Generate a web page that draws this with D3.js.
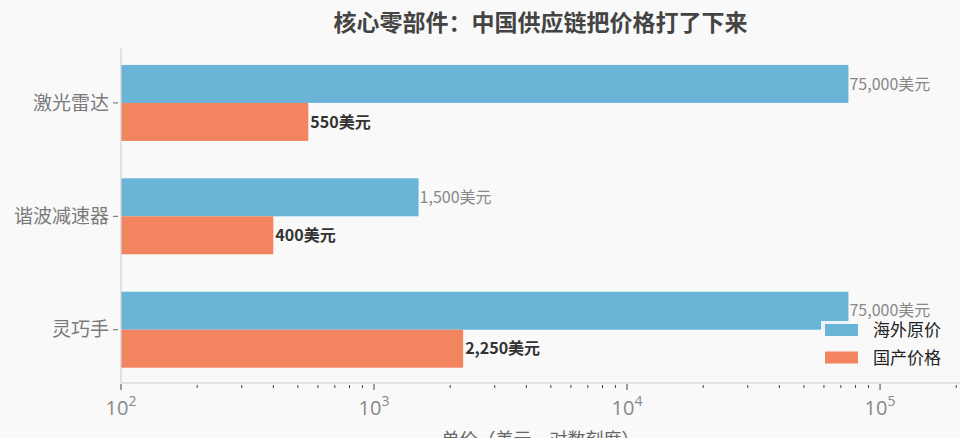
<!DOCTYPE html>
<html><head><meta charset="utf-8">
<script src="https://cdn.jsdelivr.net/npm/d3@7"></script>
<style>html,body{margin:0;padding:0;background:#f9f9f9;}svg{display:block;font-family:"Noto Sans CJK SC","Noto Sans",sans-serif;}</style>
</head><body>
<svg id="c" width="960" height="438"></svg>
<script>
const categories = ["激光雷达", "谐波减速器", "灵巧手"];
const overseasPrice = [75000, 1500, 75000];
const domesticPrice = [550, 400, 2250];
const seriesNames = ["海外原价", "国产价格"];
const majorTicks = [100, 1000, 10000, 100000];
const title = "核心零部件：中国供应链把价格打了下来";
const xLabel = "单价（美元，对数刻度）";

(function () {
const colors = ["#6ab4d8", "#f2845f"];
const svg = d3.select("#c");
const W = 960, H = 438;
svg.append("rect").attr("width", W).attr("height", H).attr("fill", "#f9f9f9");

const mLeft = 121, mRight = 960, mTop = 48.5, mBottom = 383;
const x = d3.scaleLog().domain([100, 207000]).range([mLeft, mRight]);
const y = d3.scaleLinear().domain([-0.48, 2.47]).range([mTop, mBottom]);
const bh = 0.335;

// bars
const g = svg.append("g");
categories.forEach((c, i) => {
  g.append("rect").attr("x", x(100)).attr("y", y(i - bh)).attr("width", x(overseasPrice[i]) - x(100))
    .attr("height", y(i) - y(i - bh)).attr("fill", colors[0]);
  g.append("rect").attr("x", x(100)).attr("y", y(i)).attr("width", x(domesticPrice[i]) - x(100))
    .attr("height", y(i + bh) - y(i)).attr("fill", colors[1]);
});

// legend box
const lg = svg.append("g");
lg.append("rect").attr("x", 821).attr("y", 321).attr("width", 135).attr("height", 52).attr("fill", "#f9f9f9").attr("opacity", 0.92);
seriesNames.forEach((s, k) => {
  const cy = 330 + k * 27.5;
  lg.append("rect").attr("x", 825).attr("y", cy - 6).attr("width", 33).attr("height", 12).attr("fill", colors[k]);
  lg.append("text").attr("x", 873).attr("y", cy + 6).attr("font-size", 17).attr("fill", "#222").text(s);
});

// value labels
const fmt = d3.format(",");
categories.forEach((c, i) => {
  svg.append("text").attr("x", x(overseasPrice[i]) + 1).attr("y", y(i - bh / 2)).attr("dy", "0.35em")
    .attr("font-size", 16).attr("fill", "#888").text(fmt(overseasPrice[i]) + "美元");
  svg.append("text").attr("x", x(domesticPrice[i]) + 2).attr("y", y(i + bh / 2)).attr("dy", "0.35em")
    .attr("font-size", 16).attr("font-weight", "bold").attr("fill", "#333").text(fmt(domesticPrice[i]) + "美元");
});

// y axis (spine + ticks + labels)
svg.append("line").attr("x1", mLeft).attr("x2", mLeft).attr("y1", mTop).attr("y2", mBottom).attr("stroke", "#d0d0d0").attr("stroke-width", 1.2);
categories.forEach((c, i) => {
  svg.append("line").attr("x1", mLeft - 8).attr("x2", mLeft - 3).attr("y1", y(i)).attr("y2", y(i)).attr("stroke", "#666").attr("stroke-width", 1);
  svg.append("text").attr("x", mLeft - 12).attr("y", y(i)).attr("dy", "0.35em").attr("text-anchor", "end")
    .attr("font-size", 19).attr("fill", "#7a7a7a").text(c);
});

// x axis
const xa = svg.append("g").attr("transform", `translate(0,${mBottom})`);
xa.append("line").attr("x1", mLeft).attr("x2", mRight).attr("stroke", "#d0d0d0").attr("stroke-width", 1.2);
const minor = x.ticks().filter(v => !majorTicks.includes(v));
minor.forEach(v => {
  xa.append("line").attr("x1", x(v)).attr("x2", x(v)).attr("y1", 2).attr("y2", 5).attr("stroke", "#444").attr("stroke-width", 1);
});
majorTicks.forEach(v => {
  xa.append("line").attr("x1", x(v)).attr("x2", x(v)).attr("y1", 1).attr("y2", 7).attr("stroke", "#444").attr("stroke-width", 1);
  const t = xa.append("text").attr("x", x(v)).attr("y", 32).attr("text-anchor", "middle").attr("font-size", 20).attr("fill", "#888")
    .attr("font-family", "'Open Sans','Noto Sans',sans-serif");
  t.append("tspan").text("10");
  t.append("tspan").attr("dy", -9).attr("font-size", 14).text(Math.round(Math.log10(v)));
});

svg.append("text").attr("x", (mLeft + mRight) / 2).attr("y", 446).attr("text-anchor", "middle").attr("font-size", 18).attr("fill", "#666").text(xLabel);

svg.append("text").attr("x", (mLeft + mRight) / 2).attr("y", 31).attr("text-anchor", "middle").attr("font-size", 23)
  .attr("font-weight", "bold").attr("fill", "#444").text(title);
})();
</script>
</body></html>
